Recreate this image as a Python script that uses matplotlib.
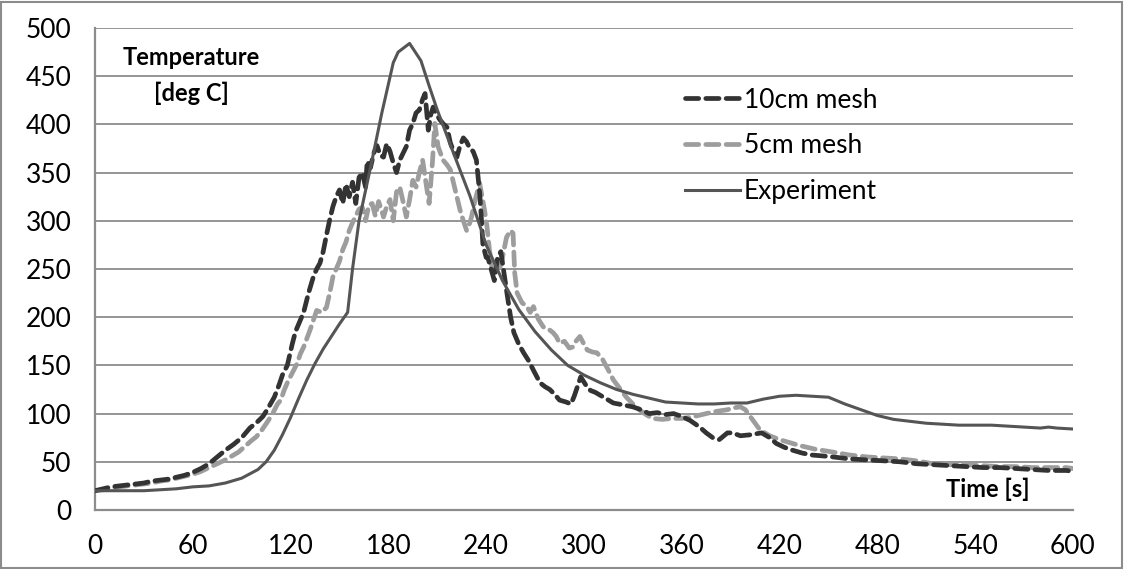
import matplotlib
matplotlib.use("Agg")
import matplotlib.pyplot as plt
from matplotlib.patches import Rectangle

plt.rcParams['font.family'] = ['Lato', 'DejaVu Sans']

# experiment (solid)
t_exp = [0, 10, 20, 30, 40, 50, 60, 70, 80, 90, 100, 105, 110, 115, 120, 125, 130, 135,
         140, 145, 150, 155, 158, 162, 169, 176, 183, 186, 193, 200, 205, 210, 220, 230,
         240, 250, 260, 270, 280, 290, 300, 310, 320, 330, 340, 350, 360, 370, 380, 390,
         400, 410, 420, 430, 440, 450, 460, 470, 480, 490, 500, 510, 520, 530, 540, 550,
         560, 570, 580, 585, 590, 600]
T_exp = [20, 20, 20, 20, 21, 22, 24, 25, 28, 33, 42, 50, 62, 78, 96, 116, 135, 152,
         167, 180, 193, 205, 250, 300, 355, 412, 464, 475, 484, 466, 440, 415, 370, 326,
         275, 238, 208, 185, 166, 150, 140, 132, 125, 120, 116, 112, 111, 110, 110, 111,
         111, 115, 118, 119, 118, 117, 110, 104, 98, 94, 92, 90, 89, 88, 88, 88,
         87, 86, 85, 86, 85, 84]

# 10cm mesh (dark dashed)
t_10 = [0, 5, 10, 15, 20, 25, 30, 35, 40, 45, 50, 55, 60, 65, 70, 75, 80, 85, 90, 95,
        100, 103, 106, 110, 113, 115, 118, 121, 123, 126, 128, 131, 134, 136, 138, 140,
        142, 144, 146, 148, 150, 152, 154, 156, 158, 160, 162, 164, 166, 167, 169, 171,
        173, 175, 177, 179, 181, 183, 185, 187, 189, 191, 193, 195, 197, 199, 201, 202.5,
        204.5, 206, 207.5, 209, 211.5, 214, 216, 218, 220, 222, 224, 226, 228, 230, 232,
        234, 235, 236, 237, 238, 240, 241, 243, 245, 247, 249, 251, 253, 255, 257, 260,
        263, 266, 269, 273, 276, 279, 282, 285, 289, 292, 294, 296, 298, 301, 304, 307,
        310, 314, 318, 324, 330, 335, 340, 345, 350, 355, 360, 365, 371, 375, 379, 383,
        388, 391, 396, 402, 409, 414, 418, 423, 428, 434, 440, 447, 453, 463, 474, 484,
        494, 504, 514, 525, 535, 545, 555, 565, 575, 585, 596, 600]
T_10 = [20, 22, 24, 25, 26, 27, 28, 30, 31, 32, 34, 36, 39, 43, 48, 55, 62, 68, 75, 85,
        92, 97, 105, 117, 130, 140, 150, 172, 185, 197, 205, 225, 242, 250, 256, 268,
        285, 301, 315, 325, 332, 318, 338, 325, 340, 318, 345, 350, 335, 362, 355, 370,
        378, 368, 366, 380, 372, 360, 350, 363, 370, 377, 394, 401, 412, 415, 426, 432,
        394, 410, 418, 412, 405, 400, 397, 381, 372, 366, 378, 386, 382, 375, 372,
        363, 346, 329, 304, 275, 262, 262, 250, 238, 262, 268, 245, 222, 200, 184, 172,
        163, 155, 145, 132, 128, 125, 120, 114, 112, 110, 118, 128, 138, 130, 124, 122,
        119, 115, 111, 109, 107, 104, 100, 101, 99, 100, 97, 93, 86, 80, 75, 73,
        80, 80, 77, 78, 80, 75, 69, 65, 62, 59, 57, 56, 55, 53, 52, 51,
        50, 48, 47, 46, 45, 44, 44, 43, 42, 41, 41, 40]

# 5cm mesh (light dashed)
t_5 = [0, 5, 10, 15, 20, 25, 30, 35, 40, 45, 50, 55, 60, 65, 70, 75, 80, 85, 88, 92,
       96, 99, 102, 106, 109, 112, 114, 116, 118, 121, 124, 126, 128, 130, 132, 134,
       136, 139, 142, 144, 146, 148, 150, 152, 154, 156, 158, 160, 162, 164, 166, 168,
       170, 172, 174, 176, 177, 179, 181, 183, 185, 187, 189, 191, 193, 195, 197, 199,
       201, 203, 205, 207, 208.5, 210.5, 212, 213.5, 216, 218, 221, 224, 226, 228, 230,
       231, 233, 236, 238, 239, 240.5, 242, 244, 246, 248.5, 250, 252.5, 255, 256.5,
       257.5, 259, 262, 265, 267, 269, 272, 275, 278, 281, 283, 285, 288, 291, 293, 295,
       297.5, 300, 302, 305, 308, 311.5, 315, 318, 322, 326, 330, 334, 338, 342, 348,
       354, 360, 365, 370, 375, 380, 388, 392, 396, 399, 402, 405, 408, 414, 420, 426,
       432, 442, 453, 463, 474, 484, 494, 504, 514, 525, 535, 545, 555, 565, 575, 585,
       596, 600]
T_5 = [20, 21, 23, 24, 25, 26, 27, 28, 30, 31, 33, 35, 37, 40, 44, 48, 52, 57, 60, 66,
       72, 76, 82, 92, 100, 110, 114, 124, 132, 142, 152, 162, 169, 178, 187, 197,
       207, 205, 210, 225, 242, 250, 258, 270, 278, 290, 298, 305, 312, 314, 300, 316,
       318, 305, 320, 310, 304, 315, 322, 300, 330, 335, 320, 304, 322, 342, 335, 350,
       363, 340, 318, 360, 401, 377, 370, 363, 358, 353, 332, 311, 300, 290, 298,
       304, 320, 339, 320, 311, 294, 270, 246, 248, 252, 262, 283, 290, 287,
       246, 225, 215, 211, 205, 211, 198, 190, 188, 184, 180, 173, 175, 168, 169, 175,
       180, 172, 166, 164, 163, 156, 145, 135, 126, 117, 110, 104, 99, 95, 94,
       95, 95, 96, 98, 100, 102, 104, 106, 107, 104, 97, 90, 83, 77, 73, 70,
       67, 63, 60, 57, 55, 54, 53, 51, 48, 47, 47, 46, 45, 45, 44, 44,
       44, 43]

x_ticks = [0, 60, 120, 180, 240, 300, 360, 420, 480, 540, 600]
y_ticks = [0, 50, 100, 150, 200, 250, 300, 350, 400, 450, 500]

fig = plt.figure(figsize=(11.24, 5.69), dpi=100)
ax = fig.add_axes([0.0845, 0.1037, 0.8701, 0.8471])

grid_col = '#8c8c8c'
ax.plot(t_10, T_10, color='#333333', lw=3.4, dashes=(2.8, 1.5), dash_capstyle='round',
        label='10cm mesh', zorder=3)
ax.plot(t_5, T_5, color='#9d9d9d', lw=3.4, dashes=(2.8, 1.5), dash_capstyle='round',
        label='5cm mesh', zorder=2)
ax.plot(t_exp, T_exp, color='#555555', lw=2.2, label='Experiment', zorder=4)

ax.set_xlim(0, 600)
ax.set_ylim(0, 500)
ax.set_xticks(x_ticks)
ax.set_yticks(y_ticks)
ax.tick_params(length=0, labelsize=19)
ax.tick_params(axis='x', pad=17)
ax.tick_params(axis='y', pad=17)
ax.yaxis.grid(True, color=grid_col, lw=1.3)
ax.set_axisbelow(True)
for s in ['top', 'right']:
    ax.spines[s].set_visible(False)
for s in ['left', 'bottom']:
    ax.spines[s].set_color(grid_col)
    ax.spines[s].set_linewidth(1.6)

ax.text(59, 469, 'Temperature', ha='center', va='center', fontsize=17, fontweight='bold')
ax.text(59, 432, '[deg C]', ha='center', va='center', fontsize=17, fontweight='bold')
ax.text(548, 21, 'Time [s]', ha='center', va='center', fontsize=17, fontweight='bold')

leg = ax.legend(loc='upper left', bbox_to_anchor=(0.592, 0.898), frameon=False,
                fontsize=19, handlelength=2.1, handletextpad=0.15, labelspacing=0.78,
                borderaxespad=0)

fig.add_artist(Rectangle((0.001, 0.002), 0.997, 0.995, transform=fig.transFigure,
                         fill=False, edgecolor='#8c8c8c', lw=1.5))

fig.savefig('out.png', dpi=100)
